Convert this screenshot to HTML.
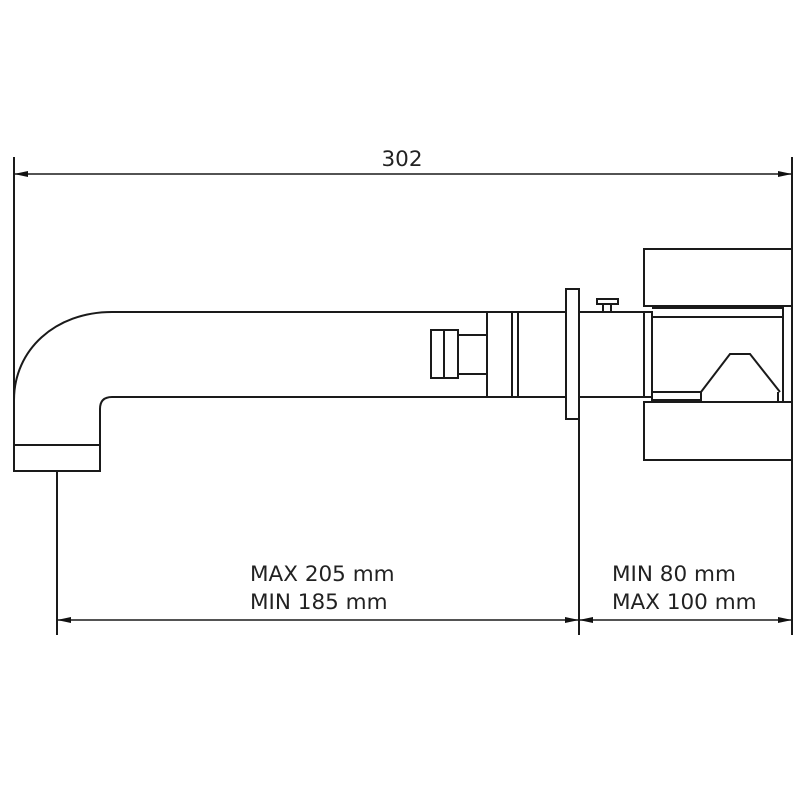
<!DOCTYPE html>
<html><head><meta charset="utf-8"><style>html,body{margin:0;padding:0;background:#fff}svg{display:block}text{font-family:"DejaVu Sans",sans-serif;font-size:21.5px;fill:#222}</style></head>
<body>
<svg width="800" height="800" viewBox="0 0 800 800" xmlns="http://www.w3.org/2000/svg">
<defs>
<marker id="a" viewBox="0 0 14 8" refX="14" refY="4" markerWidth="14" markerHeight="8" markerUnits="userSpaceOnUse" orient="auto-start-reverse"><path d="M0,1 L14,4 L0,7 Z" fill="#111"/></marker>
</defs>
<g stroke="#1a1a1a" stroke-width="2" fill="none">
<line x1="14" y1="157" x2="14" y2="470"/>
<line x1="792" y1="157" x2="792" y2="635"/>
<line x1="57" y1="471" x2="57" y2="635"/>
<line x1="579" y1="419" x2="579" y2="635"/>
<line x1="14" y1="174" x2="792" y2="174" stroke-width="1.5" marker-start="url(#a)" marker-end="url(#a)"/>
<line x1="57" y1="620" x2="579" y2="620" stroke-width="1.5" marker-start="url(#a)" marker-end="url(#a)"/>
<line x1="579" y1="620" x2="792" y2="620" stroke-width="1.5" marker-start="url(#a)" marker-end="url(#a)"/>
<path d="M14,400 C14,350 55,312 112,312 L566,312"/>
<path d="M566,397 L112,397 Q100,397 100,409 L100,471 L14,471 L14,400"/>
<line x1="14" y1="445" x2="100" y2="445"/>
<line x1="487" y1="312" x2="487" y2="397"/>
<line x1="512" y1="312" x2="512" y2="397"/>
<line x1="518" y1="312" x2="518" y2="397"/>
<rect x="431" y="330" width="27" height="48"/>
<line x1="444" y1="330" x2="444" y2="378"/>
<rect x="458" y="335" width="29" height="39"/>
<rect x="566" y="289" width="13" height="130"/>
<line x1="579" y1="312" x2="644" y2="312"/>
<line x1="579" y1="397" x2="644" y2="397"/>
<rect x="597" y="299" width="21" height="5"/>
<line x1="603" y1="304" x2="603" y2="312"/>
<line x1="611" y1="304" x2="611" y2="312"/>
<rect x="644" y="249" width="148" height="57"/>
<rect x="644" y="402" width="148" height="58"/>
<rect x="644" y="312" width="8" height="85"/>
<line x1="652" y1="308" x2="783" y2="308"/>
<line x1="652" y1="317" x2="783" y2="317"/>
<line x1="783" y1="306" x2="783" y2="402"/>
<line x1="652" y1="402" x2="783" y2="402"/>
<path d="M701,392 L730,354 L750,354 L780,392"/>
<rect x="652" y="392" width="49" height="8"/>
<line x1="701" y1="392" x2="701" y2="402"/>
<line x1="778" y1="392" x2="778" y2="402"/>
</g>
<text x="402" y="166" text-anchor="middle">302</text>
<text x="250" y="581">MAX 205 mm</text>
<text x="250" y="609">MIN 185 mm</text>
<text x="612" y="581">MIN 80 mm</text>
<text x="612" y="609">MAX 100 mm</text>
</svg>
</body></html>
